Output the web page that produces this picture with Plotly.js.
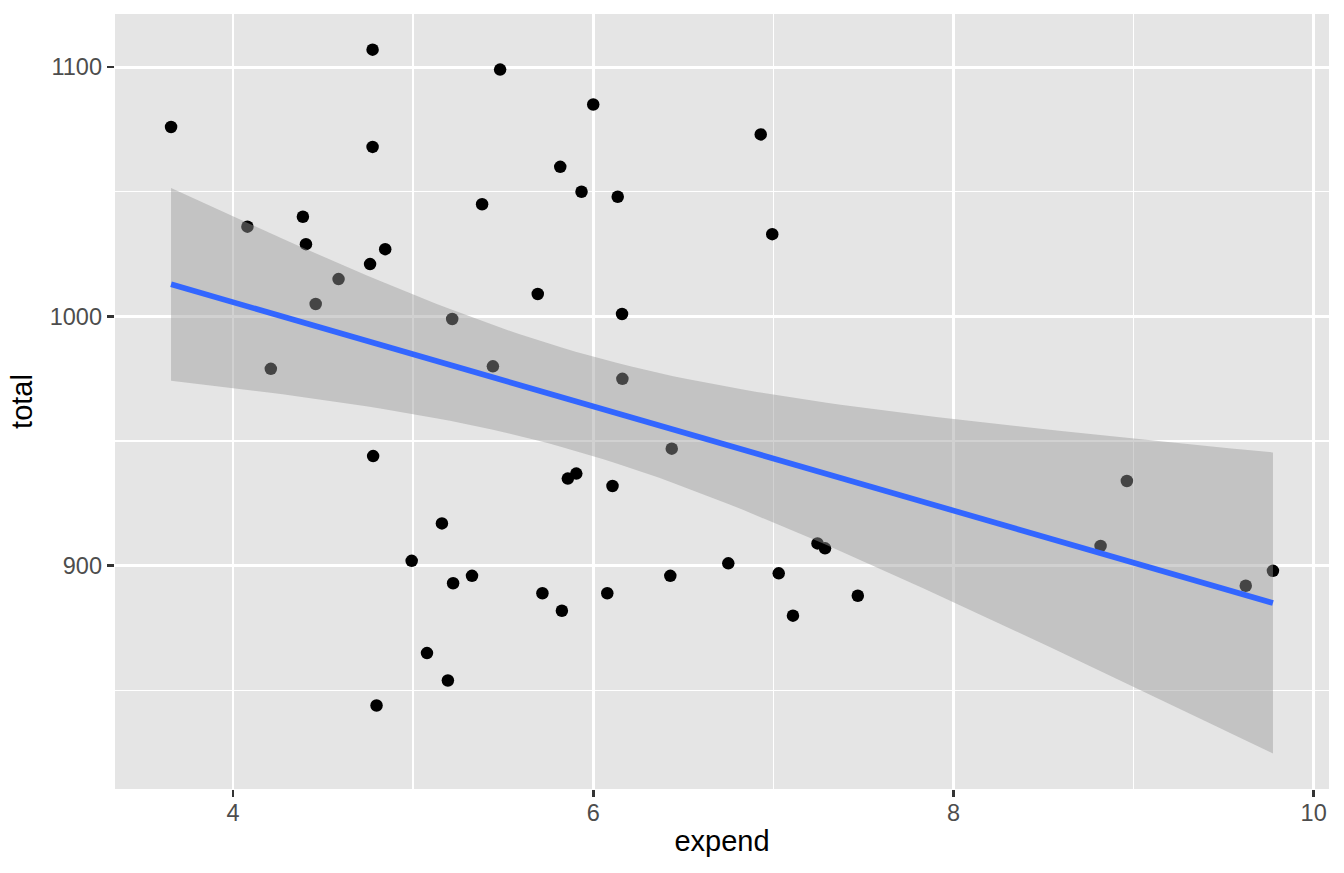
<!DOCTYPE html>
<html><head><meta charset="utf-8">
<script src="https://cdn.plot.ly/plotly-3.0.1.min.js"></script>
<style>html,body{margin:0;padding:0;background:#fff}#chart{width:1344px;height:873px}</style>
</head><body><div id="chart"></div>
<script>
// SAT data: expenditure per pupil (k$) vs total SAT score, 50 states
const states = ["Alabama","Alaska","Arizona","Arkansas","California","Colorado","Connecticut","Delaware","Florida","Georgia","Hawaii","Idaho","Illinois","Indiana","Iowa","Kansas","Kentucky","Louisiana","Maine","Maryland","Massachusetts","Michigan","Minnesota","Mississippi","Missouri","Montana","Nebraska","Nevada","New Hampshire","New Jersey","New Mexico","New York","North Carolina","North Dakota","Ohio","Oklahoma","Oregon","Pennsylvania","Rhode Island","South Carolina","South Dakota","Tennessee","Texas","Utah","Vermont","Virginia","Washington","West Virginia","Wisconsin","Wyoming"];
const expend = [4.405,8.963,4.778,4.459,4.992,5.443,8.817,7.030,5.718,5.193,6.078,4.210,6.136,5.826,5.483,5.817,5.217,4.761,6.428,7.245,7.287,6.994,6.000,4.080,5.383,5.692,5.935,5.160,5.859,9.774,4.586,9.623,5.077,4.775,6.162,4.845,6.436,7.109,7.469,4.797,4.775,4.388,5.222,3.656,6.750,5.327,5.906,6.107,6.930,6.160];
const total = [1029,934,944,1005,902,980,908,897,889,854,889,979,1048,882,1099,1060,999,1021,896,909,907,1033,1085,1036,1045,1009,1050,917,935,898,1015,892,865,1107,975,1027,947,880,888,844,1068,1040,893,1076,901,896,937,932,1073,1001];
const xTicks = [4,6,8,10];
const yTicks = [900,1000,1100];
const xMinor = [3,5,7,9];
const yMinor = [850,950,1050];

// linear model fit (like geom_smooth(method = "lm"))
const n = expend.length;
const mx = expend.reduce((a,b)=>a+b,0)/n;
const my = total.reduce((a,b)=>a+b,0)/n;
let sxx=0, sxy=0;
for (let i=0;i<n;i++){ sxx+=(expend[i]-mx)**2; sxy+=(expend[i]-mx)*(total[i]-my); }
const b1 = sxy/sxx, b0 = my - b1*mx;
let sse=0;
for (let i=0;i<n;i++){ sse += (total[i]-(b0+b1*expend[i]))**2; }
const sigma = Math.sqrt(sse/(n-2));
const tq = 2.010635; // qt(0.975, 48)
const xmin = Math.min(...expend), xmax = Math.max(...expend);
const gx=[], gy=[], lo=[], hi=[];
for (let k=0;k<80;k++){
  const x = xmin + (xmax-xmin)*k/79;
  const f = b0 + b1*x;
  const se = sigma*Math.sqrt(1/n + (x-mx)**2/sxx);
  gx.push(x); gy.push(f); lo.push(f - tq*se); hi.push(f + tq*se);
}

const traces = [
  {x: expend, y: total, text: states, type:'scatter', mode:'markers',
   marker:{color:'black', size:12.5}, hoverinfo:'text+x+y', showlegend:false},
  {x: gx, y: lo, type:'scatter', mode:'lines', line:{width:0, color:'rgba(0,0,0,0)'}, hoverinfo:'skip', showlegend:false},
  {x: gx, y: hi, type:'scatter', mode:'lines', line:{width:0, color:'rgba(0,0,0,0)'}, fill:'tonexty', fillcolor:'rgba(153,153,153,0.45)', hoverinfo:'skip', showlegend:false},
  {x: gx, y: gy, type:'scatter', mode:'lines', line:{color:'#3366FF', width:5.7}, hoverinfo:'skip', showlegend:false}
];

const axisCommon = {
  showline:false, zeroline:false, gridcolor:'#FFFFFF', gridwidth:2.8,
  ticks:'outside', ticklen:7.3, tickwidth:2.7, tickcolor:'#333333',
  tickfont:{family:'Liberation Sans, Arial, sans-serif', size:23.5, color:'#4D4D4D'},
  automargin:false
};

const layout = {
  width:1344, height:873,
  margin:{l:114.5, r:15, t:14, b:84},
  paper_bgcolor:'#FFFFFF', plot_bgcolor:'#E5E5E5',
  font:{family:'Liberation Sans, Arial, sans-serif'},
  xaxis: Object.assign({}, axisCommon, {
    range:[3.3448, 10.0852], tickmode:'array', tickvals:xTicks, ticktext:xTicks.map(String),
    ticklabelstandoff:-5,
    minor:{tickmode:'array', tickvals:xMinor, showgrid:true, gridcolor:'#FFFFFF', gridwidth:1.4, ticks:''},
    title:{text:'expend', font:{size:29, color:'#000000'}, standoff:6}
  }),
  yaxis: Object.assign({}, axisCommon, {
    range:[810.5, 1121.3], tickmode:'array', tickvals:yTicks, ticktext:yTicks.map(String),
    minor:{tickmode:'array', tickvals:yMinor, showgrid:true, gridcolor:'#FFFFFF', gridwidth:1.4, ticks:''},
    title:{text:'total', font:{size:29, color:'#000000'}, standoff:8}
  })
};

Plotly.newPlot('chart', traces, layout, {displayModeBar:false, staticPlot:true});
</script></body></html>
